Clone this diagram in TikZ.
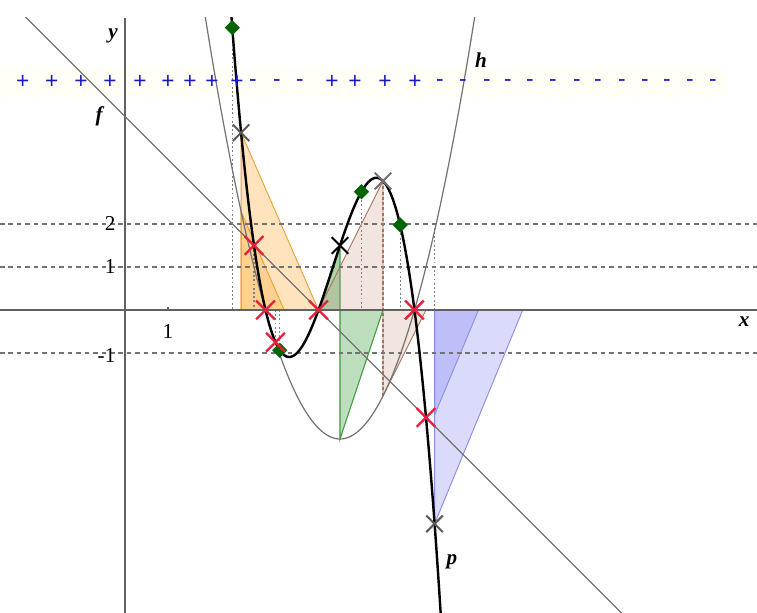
\documentclass[tikz,border=0pt]{standalone}
\usepackage{fontspec}
\setmainfont{Liberation Serif}
\setsansfont{Liberation Sans}
\usetikzlibrary{shapes.misc,shapes.geometric}
\definecolor{redx}{RGB}{232,30,60}
\definecolor{gdk}{RGB}{0,100,0}
\definecolor{sgn}{RGB}{25,25,195}
\definecolor{orfill}{RGB}{255,170,50}
\definecolor{oredge}{RGB}{232,160,50}
\definecolor{grfill}{RGB}{70,165,70}
\definecolor{gredge}{RGB}{60,150,60}
\definecolor{brfill}{RGB}{205,150,130}
\definecolor{bredge}{RGB}{165,115,95}
\definecolor{blfill}{RGB}{110,110,240}
\definecolor{bledge}{RGB}{140,140,230}
\begin{document}
\begin{tikzpicture}[x=1cm,y=1cm,
  redcross/.style={cross out, draw=redx, line width=1.6pt, minimum size=0.38cm, inner sep=0pt},
  graycross/.style={cross out, draw=black!65, line width=1.3pt, minimum size=0.34cm, inner sep=0pt},
  blackcross/.style={graycross, draw=black},
  gdiam/.style={diamond, fill=gdk, minimum size=0.36cm, inner sep=0pt},
  hgrid/.style={draw=black!55, line width=0.8pt, dash pattern=on 3pt off 2.6pt},
  vdots/.style={draw=black!50, line width=0.8pt, dash pattern=on 1.2pt off 1.6pt},
  axisline/.style={draw=black!62, line width=1.2pt},
  thincurve/.style={draw=black!55, line width=0.8pt},
  pcurve/.style={draw=black, line width=1.6pt},
  otri/.style={fill=orfill, fill opacity=0.32, draw=oredge, line width=0.6pt},
  gtri/.style={fill=grfill, fill opacity=0.45, draw=gredge, line width=0.7pt},
  btri/.style={fill=brfill, fill opacity=0.25, draw=bredge, line width=0.6pt},
  bltri/.style={fill=blfill, fill opacity=0.25, draw=bledge, line width=0.6pt},
  fnlabel/.style={font=\bfseries\itshape\fontsize{14}{14}\selectfont},
  numlabel/.style={font=\fontsize{14}{14}\selectfont},
  signtext/.style={text=sgn, font=\sffamily\fontsize{15}{15}\selectfont, inner sep=0pt}
]
\useasboundingbox[fill=white] (-2.907,-7.047) rectangle (14.698,7.209);

% very faint band behind the sign row
\fill[yellow!3] (-2.907,4.95) rectangle (14.0,5.65);

% shaded triangles
\path[otri] (2.7,4.122) -- (2.7,0) -- (4.5,0) -- cycle;
\path[otri] (2.7,2.29) -- (2.7,0) -- (3.7,0) -- cycle;
\path[gtri] (4.5,0) -- (5,1.5) -- (5,0) -- cycle;
\path[gtri, fill opacity=0.35] (5,0) -- (6,0) -- (5,-3) -- cycle;
\path[btri] (4.5,0) -- (6,3) -- (6,0) -- cycle;
\path[btri] (6,0) -- (7,0) -- (6,-2) -- cycle;
\path[bltri] (7.2,0) -- (9.25,0) -- (7.2,-4.972) -- cycle;
\path[bltri] (7.2,0) -- (8.22,0) -- (7.2,-2.44) -- cycle;

% grid lines
\foreach \yy in {2,1,-1} \draw[hgrid] (-2.907,\yy) -- (14.698,\yy);

% dotted verticals
\draw[vdots] (2.495,6.566) -- (2.495,0);
\draw[vdots] (3,1.5) -- (3,0);
\draw[vdots] (3.5,0) -- (3.5,-0.75);
\draw[vdots] (3.6,0) -- (3.6,-0.936);
\draw[vdots] (5.5,2.75) -- (5.5,0);
\draw[vdots] (6.4,1.976) -- (6.4,0);
\draw[vdots] (7.2,0) -- (7.2,2);
\draw[draw=bredge, line width=0.7pt, dash pattern=on 2pt off 1.5pt] (6,3) -- (6,-2);

% axes
\draw[axisline] (-2.907,0) -- (14.698,0);
\draw[axisline] (0,-7.047) -- (0,6.8);
\draw[axisline, line width=0.8pt] (1,0) -- (1,0.08);

% curves
\begin{scope}
\clip (-2.907,-7.047) rectangle (14.698,6.81);
\draw[thincurve] (-2.35,6.85) -- (11.6,-7.1);
\draw[thincurve] plot[domain=1.86:8.14, samples=150, smooth] (\x, {(\x-5)^2-3});
\draw[pcurve] plot[domain=2.46:7.36, samples=250, smooth] (\x, {-(\x-4.5)*((\x-5)^2-3)});
\end{scope}

% markers
\node[gdiam] (d1) at (2.495,6.566) {};
\node[gdiam] (d2) at (3.6,-0.936) {};
\node[gdiam] (d3) at (5.5,2.75) {};
\node[gdiam] (d4) at (6.4,1.976) {};
\node[graycross] (c1) at (2.7,4.122) {};
\node[blackcross] (c2) at (5,1.5) {};
\node[graycross, draw=black!55] (c3) at (6,3) {};
\node[graycross] (c4) at (7.2,-4.972) {};
\node[redcross] (r1) at (3,1.5) {};
\node[redcross] (r2) at (3.268,0) {};
\node[redcross] (r3) at (3.5,-0.75) {};
\node[redcross] (r4) at (4.5,0) {};
\node[redcross] (r5) at (6.732,0) {};
\node[redcross] (r6) at (7,-2.5) {};

% sign row
\foreach \sx [count=\i] in {-2.379,-1.705,-1.023,-0.349,0.349,1.0,1.512,2.023,2.605,4.814,5.349,6.047,6.744}
  \node[signtext] (plus\i) at (\sx,5.302) {+};
\foreach \sx [count=\i] in {2.977,3.535,4.07,7.326,7.86,8.419,8.907,9.419,9.953,10.51,11.0,11.558,12.093,12.6,13.14,13.67}
  \node[signtext] (minus\i) at (\sx,5.27) {-};

% labels
\node[fnlabel] (ly) at (-0.28,6.38) {y};
\node[fnlabel] (lf) at (-0.6,4.5) {f};
\node[fnlabel] (lh) at (8.28,5.8) {h};
\node[fnlabel] (lp) at (7.6,-5.86) {p};
\node[fnlabel] (lx) at (14.4,-0.27) {x};
\node[numlabel, anchor=east] (n2) at (-0.1,2.0) {2};
\node[numlabel, anchor=east] (n1) at (-0.1,1.0) {1};
\node[numlabel, anchor=east] (nm1) at (-0.1,-1.05) {-1};
\node[numlabel] (nx1) at (1.0,-0.5) {1};
\end{tikzpicture}
\end{document}
